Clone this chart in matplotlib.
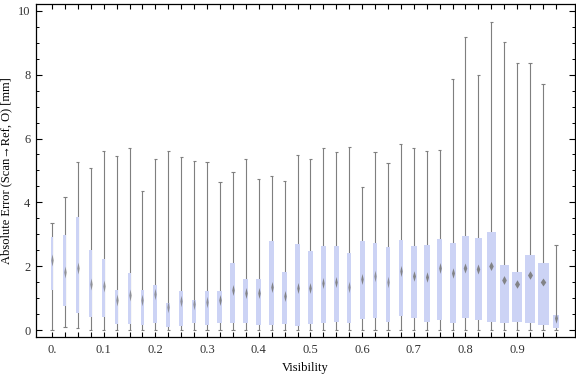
import numpy as np
import matplotlib
matplotlib.use("Agg")
import matplotlib.pyplot as plt
from matplotlib.path import Path

plt.rcParams['font.family'] = ['Liberation Serif', 'DejaVu Serif']

# visibility bins (0, 0.025, ..., 0.975)
vis = [i * 0.025 for i in range(40)]

wmin = [0.0, 0.10, 0.05, 0.0, 0.0, 0.0, 0.0, 0.0, 0.0, 0.0,
        0.0, 0.0, 0.0, 0.0, 0.0, 0.0, 0.0, 0.0, 0.0, 0.0,
        0.0, 0.0, 0.0, 0.0, 0.0, 0.0, 0.0, 0.0, 0.0, 0.0,
        0.0, 0.0, 0.0, 0.0, 0.0, 0.0, 0.0, 0.0, 0.0, 0.0]
q1 = [1.25, 0.76, 0.52, 0.40, 0.40, 0.18, 0.18, 0.16, 0.21, 0.10,
      0.14, 0.23, 0.16, 0.23, 0.23, 0.21, 0.16, 0.16, 0.18, 0.14,
      0.18, 0.21, 0.26, 0.21, 0.33, 0.37, 0.26, 0.45, 0.39, 0.26,
      0.30, 0.23, 0.39, 0.32, 0.26, 0.21, 0.24, 0.23, 0.17, 0.07]
med = [2.19, 1.83, 1.93, 1.43, 1.38, 0.94, 1.10, 0.94, 1.12, 0.71,
       0.91, 0.83, 0.89, 0.93, 1.25, 1.15, 1.15, 1.36, 1.08, 1.31,
       1.31, 1.46, 1.51, 1.34, 1.59, 1.70, 1.51, 1.85, 1.70, 1.67,
       1.94, 1.80, 1.93, 1.90, 2.02, 1.56, 1.45, 1.72, 1.49, 0.37]
q3 = [2.90, 2.98, 3.54, 2.50, 2.22, 1.25, 1.78, 1.24, 1.41, 0.86,
      1.23, 0.93, 1.23, 1.23, 2.11, 1.60, 1.60, 2.79, 1.83, 2.69,
      2.48, 2.63, 2.63, 2.42, 2.79, 2.72, 2.59, 2.82, 2.63, 2.66,
      2.85, 2.73, 2.95, 2.88, 3.07, 2.04, 1.82, 2.35, 2.10, 0.47]
wmax = [3.34, 4.18, 5.25, 5.07, 5.61, 5.44, 5.69, 4.34, 5.35, 5.61,
        5.41, 5.30, 5.26, 4.63, 4.94, 5.35, 4.73, 4.81, 4.67, 5.47,
        5.35, 5.69, 5.57, 5.73, 4.49, 5.57, 5.22, 5.82, 5.69, 5.60,
        5.63, 7.85, 9.17, 7.98, 9.65, 9.01, 8.36, 8.36, 7.70, 2.66]
# relative box widths (sample size weight)
weight = [2.7, 3, 3, 3, 3, 3, 3, 3.7, 4, 4,
          4, 4, 4, 5, 5, 5, 5, 5, 5, 5,
          5.3, 4.7, 5, 4, 5, 4, 4, 4.7, 6, 6,
          5.3, 6, 7, 7, 9, 9.3, 10, 10, 11, 6]

fig = plt.figure(figsize=(5.76, 3.77), dpi=100)
ax = fig.add_axes([0.0625, 0.106, 0.9355, 0.883])

px = 1 / 517.0  # data units per pixel along x
wcol = '#7f7f7f'
for x, a, b, m, c, d, w in zip(vis, wmin, q1, med, q3, wmax, weight):
    ax.vlines(x, a, d, color=wcol, lw=0.8, zorder=1)
    ax.hlines([a, d], x - 1.6 * px, x + 1.6 * px, color=wcol, lw=0.8, zorder=1)
    ax.bar(x, c - b, bottom=b, width=w * px, color='#ccd3f5', edgecolor='none', zorder=2)
    h = 12 - 0.5 * (w - 3)       # diamond height in px
    r = max(0.2, 0.5 * w / h)
    diamond = Path([(0, 1), (r, 0), (0, -1), (-r, 0), (0, 1)])
    ax.plot(x, m, marker=diamond, ms=h * 0.72, color='#7a7a7a', mec='none',
            alpha=0.75 if w < 4.5 else 0.9, zorder=3)

ax.set_xlim(-0.031, 1.0116)
ax.set_ylim(-0.22, 10.21)

ax.set_xticks(vis, minor=False)
ax.set_xticklabels(['0.' if i == 0 else ('%.1f' % v if i % 4 == 0 else '') for i, v in enumerate(vis)])
ax.set_yticks([0, 2, 4, 6, 8, 10])
ax.set_yticks(np.arange(0, 10.01, 0.5), minor=True)
ax.tick_params(axis='x', which='major', direction='in', length=3.5, width=0.8,
               top=True, labelsize=9, pad=5, labelcolor='#333333')
ax.tick_params(axis='y', which='major', direction='in', length=4, width=0.8,
               right=True, labelsize=9, pad=4, labelcolor='#333333')
ax.tick_params(axis='y', which='minor', direction='in', length=2.2, width=0.7, right=True)
for s in ax.spines.values():
    s.set_linewidth(0.9)

ax.set_xlabel('Visibility', fontsize=9, labelpad=4)
ax.set_ylabel('Absolute Error (Scan\u2192Ref, O) [mm]', fontsize=9, labelpad=4)

fig.savefig('out.png', dpi=100)
